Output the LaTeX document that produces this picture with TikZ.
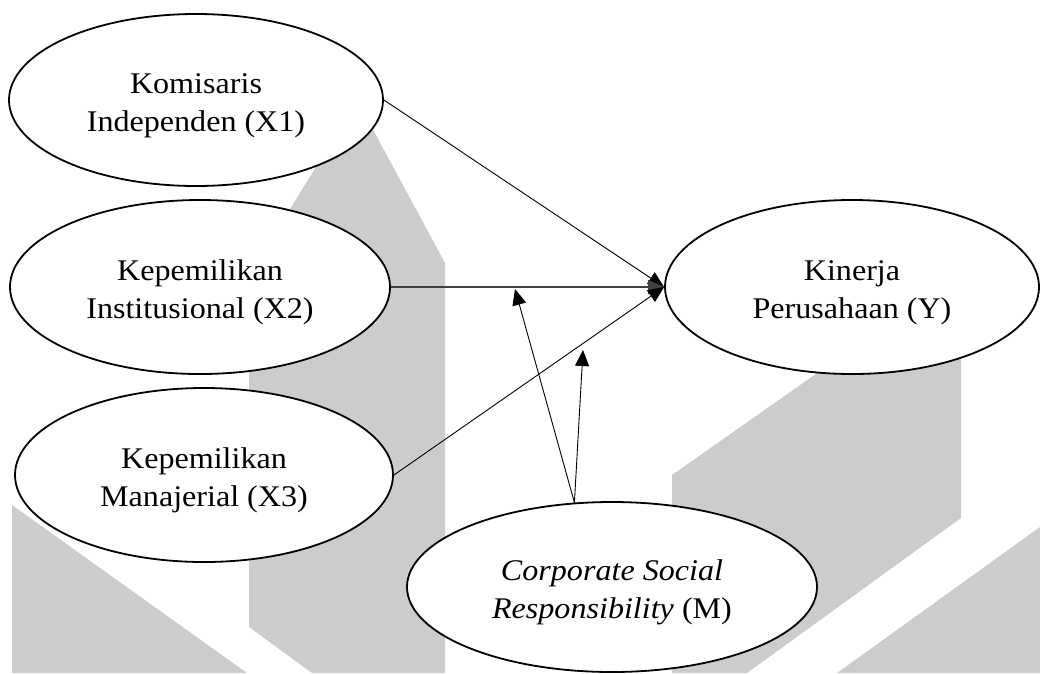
\documentclass[tikz,border=0pt]{standalone}
\usepackage{fontspec}
\setmainfont{Liberation Serif}[FakeStretch=1.07]
\usetikzlibrary{arrows.meta,shapes.geometric}
\newcommand{\topstrut}{\rule{0pt}{31pt}}
\begin{document}
\begin{tikzpicture}[x=1pt,y=-1pt,
  wm/.style={fill=black!20,draw=none},
  var/.style={ellipse,draw=black,line width=1.8pt,fill=white,inner sep=0pt,align=center,
    font=\fontsize{30}{38.5}\selectfont},
  conn/.style={line width=0.9pt,-{Triangle[length=16pt,width=14pt]}},
  mainconn/.style={conn,line width=1.3pt,draw=black!75},
]
\useasboundingbox (0,0) rectangle (1040,673);
% watermark shapes
\fill[wm] (249,276) -- (357,100) -- (445,263) -- (445,673) -- (312,673) -- (249,627) -- cycle;
\fill[wm] (672,475) -- (961,272) -- (961,518) -- (747,673) -- (672,673) -- cycle;
\fill[wm] (837,673) -- (1040,527) -- (1040,673) -- cycle;
\fill[wm] (12,505) -- (247,673) -- (12,673) -- cycle;
% variables
\node[var,minimum width=374pt,minimum height=172pt] (x1) at (196,100) {\topstrut Komisaris\\Independen (X1)};
\node[var,minimum width=380pt,minimum height=174pt] (x2) at (200,287) {\topstrut Kepemilikan\\Institusional (X2)};
\node[var,minimum width=378pt,minimum height=174pt] (x3) at (204,475) {\topstrut Kepemilikan\\Manajerial (X3)};
\node[var,minimum width=374pt,minimum height=174pt] (y) at (852,287) {\topstrut Kinerja\\Perusahaan (Y)};
\node[var,minimum width=410pt,minimum height=170pt] (m) at (612,587) {\topstrut\textit{Corporate Social}\\\textit{Responsibility} (M)};
% moderation targets
\coordinate (t1) at (515,289);
\coordinate (t2) at (583,350);
% connectors
\draw[conn] (x1.east) -- (y.west);
\draw[mainconn] (x2.east) -- (y.west);
\draw[conn] (x3.east) -- (y.west);
\draw[conn] (m.114) -- (t1);
\draw[conn] (m.114) -- (t2);
\end{tikzpicture}
\end{document}
